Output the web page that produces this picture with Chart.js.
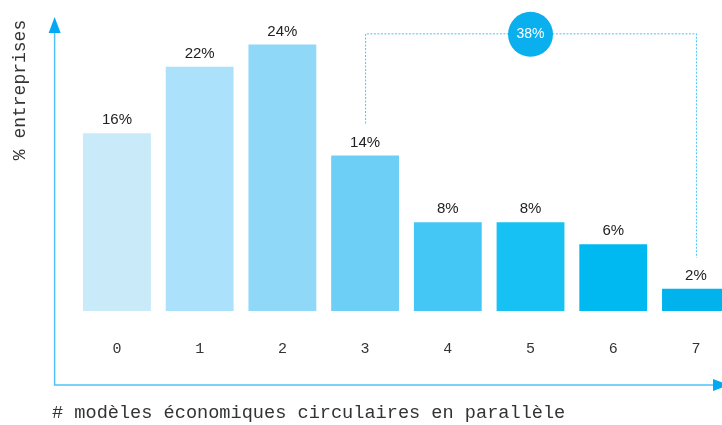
<!DOCTYPE html>
<html>
<head>
<meta charset="utf-8">
<script src="https://cdn.jsdelivr.net/npm/chart.js@4"></script>
<style>
  html, body { margin: 0; padding: 0; background: #fff; overflow: hidden; }
  #frame { width: 722px; height: 425px; overflow: hidden; position: relative; }
  #wrap { width: 760px; height: 425px; position: absolute; left: 0; top: 0; }
</style>
</head>
<body>
<div id="frame">
  <div id="wrap"><canvas id="bar-chart-id"></canvas></div>
</div>
<script>
// number of circular business models run in parallel
const categories = ["0", "1", "2", "3", "4", "5", "6", "7"];
// % of companies
const shares = [16, 22, 24, 14, 8, 8, 6, 2];
const barColors = ["#c8eaf9", "#abe1fa", "#8fd8f7", "#6dcff6", "#44c7f4", "#17c1f3", "#00b9f1", "#00b3ec"];
// bracket groups the companies with 3 or more models
const bracketFrom = 3;
const bracketTo = 7;

const yTitle = "% entreprises";
const xTitle = "# modèles économiques circulaires en parallèle";

const AXIS_COLOR = "#4fc3f7";
const MONO = "'Liberation Mono', 'DejaVu Sans Mono', monospace";
const SANS = "'Liberation Sans', Arial, sans-serif";

const decorPlugin = {
  id: "decor",
  afterDraw(chart) {
    const ctx = chart.ctx;
    const area = chart.chartArea;
    const meta = chart.getDatasetMeta(0);
    const yScale = chart.scales.y;

    // axis lines with arrows
    const ax = area.left - 21;
    const ay = area.bottom + 74;
    ctx.save();
    ctx.strokeStyle = AXIS_COLOR;
    ctx.fillStyle = "#03a9f4";
    ctx.lineWidth = 1.5;
    ctx.beginPath();
    ctx.moveTo(ax, 32);
    ctx.lineTo(ax, ay);
    ctx.lineTo(715, ay);
    ctx.stroke();
    ctx.beginPath();
    ctx.moveTo(ax, 17);
    ctx.lineTo(ax - 6, 33);
    ctx.lineTo(ax + 6, 33);
    ctx.closePath();
    ctx.fill();
    ctx.beginPath();
    ctx.moveTo(729, ay);
    ctx.lineTo(713, ay - 6);
    ctx.lineTo(713, ay + 6);
    ctx.closePath();
    ctx.fill();

    // axis titles
    ctx.fillStyle = "#333";
    ctx.textBaseline = "middle";
    ctx.textAlign = "left";
    ctx.font = "18.6px " + MONO;
    ctx.fillText(xTitle, 52, 413);
    ctx.font = "18px " + MONO;
    ctx.translate(20, 90);
    ctx.rotate(-Math.PI / 2);
    ctx.textAlign = "center";
    ctx.fillText(yTitle, 0, 0);
    ctx.restore();

    // value labels
    ctx.save();
    ctx.fillStyle = "#222";
    ctx.font = "15px " + SANS;
    ctx.textAlign = "center";
    ctx.textBaseline = "middle";
    meta.data.forEach((bar, i) => {
      ctx.fillText(shares[i] + "%", bar.x, bar.y - 13);
    });

    // dotted bracket
    const x1 = meta.data[bracketFrom].x;
    const x2 = meta.data[bracketTo].x;
    const yTop = yScale.getPixelForValue(25);
    ctx.strokeStyle = AXIS_COLOR;
    ctx.lineWidth = 1;
    ctx.setLineDash([2, 1.5]);
    ctx.beginPath();
    ctx.moveTo(x1 + 0.5, meta.data[bracketFrom].y - 32);
    ctx.lineTo(x1 + 0.5, yTop + 0.5);
    ctx.lineTo(x2 + 0.5, yTop + 0.5);
    ctx.lineTo(x2 + 0.5, meta.data[bracketTo].y - 31);
    ctx.stroke();
    ctx.setLineDash([]);

    // bubble with the grouped share
    let total = 0;
    for (let i = bracketFrom; i <= bracketTo; i++) total += shares[i];
    const cx = (x1 + x2) / 2;
    ctx.fillStyle = "#0aafee";
    ctx.beginPath();
    ctx.arc(cx, yTop + 1, 22.5, 0, Math.PI * 2);
    ctx.fill();
    ctx.fillStyle = "#fff";
    ctx.font = "14px " + SANS;
    ctx.fillText(total + "%", cx, yTop + 1);
    ctx.restore();
  },
};

new Chart(document.getElementById("bar-chart-id").getContext("2d"), {
  type: "bar",
  data: {
    labels: categories,
    datasets: [
      {
        label: yTitle,
        data: shares,
        backgroundColor: barColors,
        borderWidth: 0,
        barPercentage: 0.82,
        categoryPercentage: 1,
      },
    ],
  },
  options: {
    responsive: true,
    maintainAspectRatio: false,
    animation: false,
    layout: { padding: { left: 75.6, right: 22.7, top: 0, bottom: 38 } },
    plugins: {
      legend: { display: false },
      tooltip: { enabled: false },
    },
    scales: {
      x: {
        grid: { display: false, drawTicks: false },
        border: { display: false },
        ticks: {
          padding: 29,
          color: "#333",
          font: { family: MONO, size: 15 },
        },
      },
      y: {
        display: false,
        min: 0,
        max: 28,
      },
    },
  },
  plugins: [decorPlugin],
});
</script>
</body>
</html>
